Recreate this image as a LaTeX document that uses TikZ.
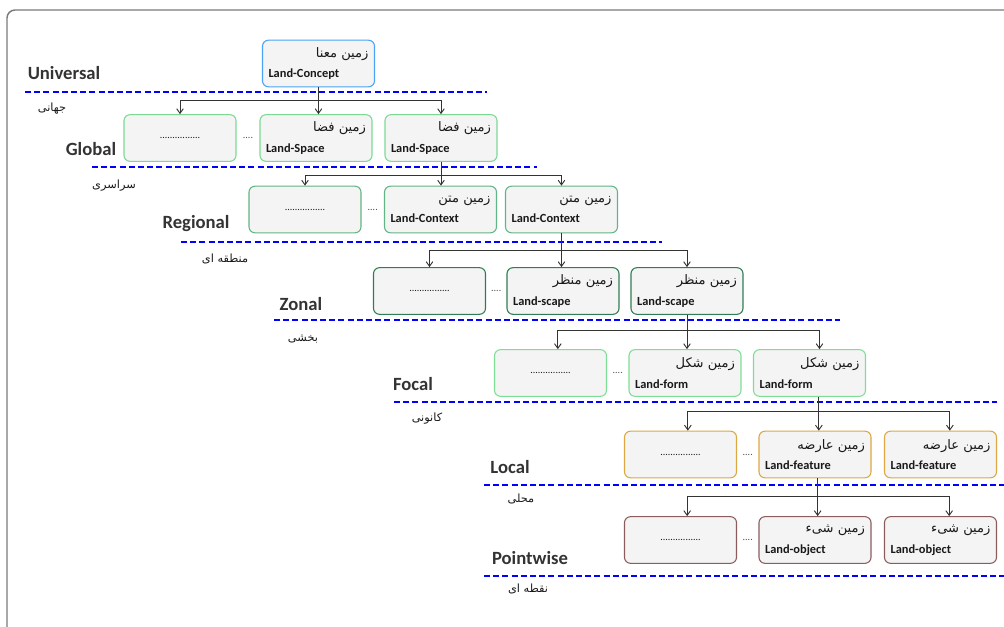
\documentclass[tikz,border=0pt]{standalone}
\usepackage{fontspec}
\setmainfont{Carlito}
\newfontfamily\persianfont[Script=Arabic]{DejaVu Sans}
\TeXXeTstate=1
\usetikzlibrary{arrows.meta,calc}

\definecolor{boxfill}{HTML}{F4F4F4}
\definecolor{conceptblue}{HTML}{4AA3F5}
\definecolor{spacegreen}{HTML}{7BD994}
\definecolor{contextgreen}{HTML}{62B585}
\definecolor{scapegreen}{HTML}{2F7D52}
\definecolor{formgreen}{HTML}{7FDE95}
\definecolor{featuregold}{HTML}{DDA844}
\definecolor{objectbrown}{HTML}{8B5C5C}
\definecolor{framegray}{HTML}{7A7A7A}

\newcommand\fatext[1]{{\persianfont\fontsize{9.8}{15.5}\selectfont\beginR #1\endR}}

\begin{document}
\begin{tikzpicture}[x=0.75pt,y=-0.75pt,
	landbox/.style={draw=#1, fill=boxfill, rounded corners=4.5pt, line width=0.8pt,
		minimum width=84pt, minimum height=35pt, text width=75pt, inner xsep=4.5pt,
		align=left, font=\fontsize{9.3}{15.5}\selectfont, text=black!90},
	dotbox/.style={landbox=#1, align=center, font=\fontsize{7.5}{8}\selectfont},
	dots/.style={font=\fontsize{7.5}{8}\selectfont, text=black!70, inner sep=0pt},
	link/.style={draw=black!80, line width=0.7pt, -{Straight Barb[length=3.5pt,width=5pt]}},
	levelline/.style={draw=blue, line width=1.6pt, dash pattern=on 4.5pt off 2.4pt},
	levelname/.style={font=\bfseries\fontsize{14}{16}\selectfont, text=black!80},
	levelfa/.style={font=\persianfont\fontsize{8.5}{10}\selectfont, text=black!90}]

	\useasboundingbox (0,0) rectangle (1004,627);
	\draw[framegray, line width=1.1pt, rounded corners=6pt] (7,627) -- (7,10) -- (1004,10);

	% level separators
	\draw[levelline] (25,92) -- (487,92);
	\draw[levelline] (92,167) -- (537,167);
	\draw[levelline] (181,242) -- (662,242);
	\draw[levelline] (274,320) -- (840,320);
	\draw[levelline] (394,402) -- (997,402);
	\draw[levelline] (484,485) -- (1004,485);
	\draw[levelline] (484,576) -- (1004,576);

	% level names
	\node[levelname] (universal) at (64,73) {Universal};
	\node[levelname] (global) at (91,149) {Global};
	\node[levelname] (regional) at (196,224) {Regional};
	\node[levelname] (zonal) at (301,304) {Zonal};
	\node[levelname] (focal) at (413,384) {Focal};
	\node[levelname] (local) at (510,467) {Local};
	\node[levelname] (pointwise) at (530,558) {Pointwise};

	\node[levelfa] (universalfa) at (52,109) {\beginR جهانی\endR};
	\node[levelfa] (globalfa) at (114,186) {\beginR سراسری\endR};
	\node[levelfa] (regionalfa) at (225,259) {\beginR منطقه ای\endR};
	\node[levelfa] (zonalfa) at (303,339) {\beginR بخشی\endR};
	\node[levelfa] (focalfa) at (427,419) {\beginR کانونی\endR};
	\node[levelfa] (localfa) at (521,499) {\beginR محلی\endR};
	\node[levelfa] (pointwisefa) at (528,589) {\beginR نقطه ای\endR};

	% boxes
	\node[landbox=conceptblue] (c0) at (318.5,63.5) {\hfill\fatext{زمین معنا}\\\textbf{Land-Concept}};

	\node[dotbox=spacegreen] (d1) at (180,138) {................};
	\node[landbox=spacegreen] (m1) at (316,138) {\hfill\fatext{زمین فضا}\\\textbf{Land-Space}};
	\node[landbox=spacegreen] (r1) at (441,138) {\hfill\fatext{زمین فضا}\\\textbf{Land-Space}};

	\node[dotbox=contextgreen] (d2) at (305,209.5) {................};
	\node[landbox=contextgreen] (m2) at (440.5,209.5) {\hfill\fatext{زمین متن}\\\textbf{Land-Context}};
	\node[landbox=contextgreen] (r2) at (561.5,209.5) {\hfill\fatext{زمین متن}\\\textbf{Land-Context}};

	\node[dotbox=scapegreen] (d3) at (429.5,291) {................};
	\node[landbox=scapegreen] (m3) at (563,291) {\hfill\fatext{زمین منظر}\\\textbf{Land-scape}};
	\node[landbox=scapegreen] (r3) at (687,291) {\hfill\fatext{زمین منظر}\\\textbf{Land-scape}};

	\node[dotbox=formgreen] (d4) at (550.5,373) {................};
	\node[landbox=formgreen] (m4) at (685,373) {\hfill\fatext{زمین شکل}\\\textbf{Land-form}};
	\node[landbox=formgreen] (r4) at (809.5,373) {\hfill\fatext{زمین شکل}\\\textbf{Land-form}};

	\node[dotbox=featuregold] (d5) at (680.5,454.5) {................};
	\node[landbox=featuregold] (m5) at (815,454.5) {\hfill\fatext{زمین عارضه}\\\textbf{Land-feature}};
	\node[landbox=featuregold] (r5) at (940.5,454.5) {\hfill\fatext{زمین عارضه}\\\textbf{Land-feature}};

	\node[dotbox=objectbrown] (d6) at (680.5,540) {................};
	\node[landbox=objectbrown] (m6) at (815,540) {\hfill\fatext{زمین شیء}\\\textbf{Land-object}};
	\node[landbox=objectbrown] (r6) at (940.5,540) {\hfill\fatext{زمین شیء}\\\textbf{Land-object}};

	% gaps between boxes
	\node[dots] (e1) at ($(d1.east)!0.5!(m1.west)$) {....};
	\node[dots] (e2) at ($(d2.east)!0.5!(m2.west)$) {....};
	\node[dots] (e3) at ($(d3.east)!0.5!(m3.west)$) {....};
	\node[dots] (e4) at ($(d4.east)!0.5!(m4.west)$) {....};
	\node[dots] (e5) at ($(d5.east)!0.5!(m5.west)$) {....};
	\node[dots] (e6) at ($(d6.east)!0.5!(m6.west)$) {....};

	% connectors
	\draw[link] (c0.south) -- (c0.south |- m1.north);
	\path (c0.south) ++(0,13) coordinate (b1);
	\draw[link] (b1) -| (d1.north);
	\draw[link] (b1) -| (r1.north);

	\draw[link] (r1.south) -- (r1.south |- m2.north);
	\path (r1.south) ++(0,14) coordinate (b2);
	\draw[link] (b2) -| (d2.north);
	\draw[link] (b2) -| (r2.north);

	\draw[link] (r2.south) -- (r2.south |- m3.north);
	\path (r2.south) ++(0,17) coordinate (b3);
	\draw[link] (b3) -| (d3.north);
	\draw[link] (b3) -| (r3.north);

	\draw[link] (r3.south) -- (r3.south |- m4.north);
	\path (r3.south) ++(0,16) coordinate (b4);
	\draw[link] (b4) -| ([xshift=5.5pt]d4.north);
	\draw[link] (b4) -| ([xshift=7.5pt]r4.north);

	\draw[link] ([xshift=7pt]r4.south) -- ([xshift=7pt]r4.south |- m5.north);
	\path ([xshift=7pt]r4.south) ++(0,15) coordinate (b5);
	\draw[link] (b5) -| ([xshift=5.5pt]d5.north);
	\draw[link] (b5) -| ([xshift=7pt]r5.north);

	\draw[link] ([xshift=2pt]m5.south) -- ([xshift=2pt]m5.south |- m6.north);
	\path ([xshift=2pt]m5.south) ++(0,18) coordinate (b6);
	\draw[link] (b6) -| ([xshift=5pt]d6.north);
	\draw[link] (b6) -| ([xshift=6.5pt]r6.north);
\end{tikzpicture}
\end{document}
